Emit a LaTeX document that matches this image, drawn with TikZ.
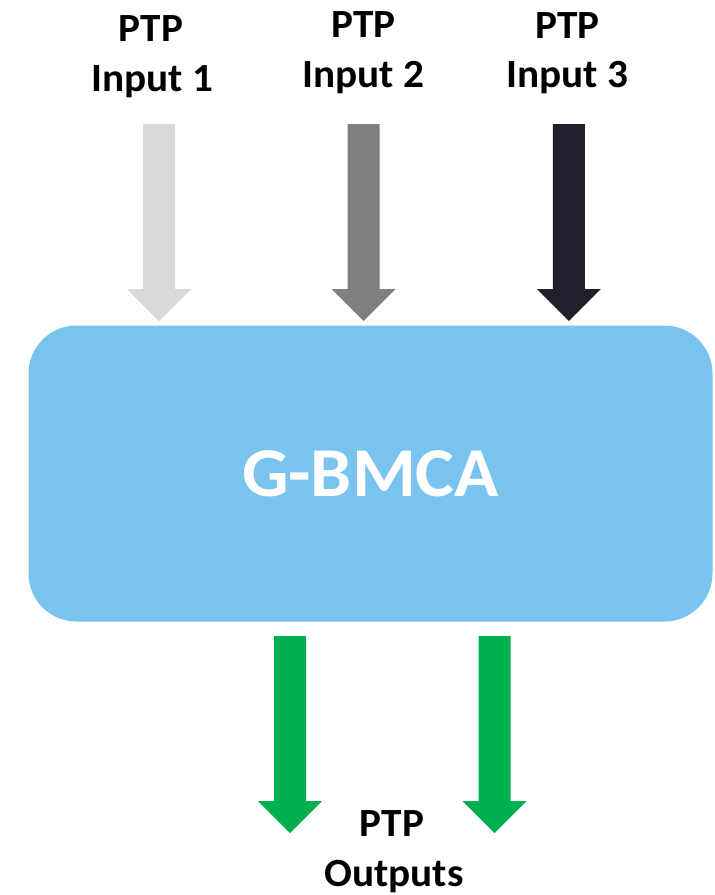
\documentclass[tikz,border=0pt]{standalone}
\usepackage{fontspec}
\setmainfont{Carlito}
\newfontfamily\labelfont[FakeStretch=1.03]{Carlito}
\newfontfamily\corefont[FakeStretch=1.045]{Carlito}
\usetikzlibrary{calc}

\definecolor{inlight}{HTML}{D9D9D9}
\definecolor{inmid}{HTML}{7F7F7F}
\definecolor{indark}{HTML}{20202E}
\definecolor{boxblue}{HTML}{78C4EE}
\definecolor{outgreen}{HTML}{00B050}

% block arrow: fill colour, tail coordinate, tip coordinate
\newcommand\blockarrow[3]{%
  \fill[#1] ($(#2)+(-16,0)$) -- ($(#2)+(16,0)$) -- ($(#3)+(16,-32)$)
    -- ($(#3)+(32,-32)$) -- (#3) -- ($(#3)+(-32,-32)$)
    -- ($(#3)+(-16,-32)$) -- cycle;}

\begin{document}
\begin{tikzpicture}[x=1pt,y=-1pt,
  lbl/.style={anchor=base,inner sep=0pt,font=\labelfont\fontsize{40}{50}\selectfont\bfseries,text=black},
  core/.style={fill=boxblue,rounded corners=48pt,minimum width=684pt,minimum height=296pt,
    inner sep=0pt,text=white,font=\corefont\fontsize{70}{80}\selectfont\bfseries}]
\useasboundingbox (0,0) rectangle (715,895);

% central block
\node[core] (gbmca) at (370.5,473.5) {G-BMCA};

% input labels
\node[lbl] (in1a) at (151,41.7) {PTP};
\node[lbl] (in1b) at (152.5,91.7) {Input 1};
\node[lbl] (in2a) at (363.3,37.3) {PTP};
\node[lbl] (in2b) at (363.3,87.3) {Input 2};
\node[lbl] (in3a) at (567.5,38.3) {PTP};
\node[lbl] (in3b) at (567.5,87.3) {Input 3};

% output label
\node[lbl] (outa) at (392,836.7) {PTP};
\node[lbl] (outb) at (394,886.7) {Outputs};

% arrow ends
\coordinate (t1) at (159,124);   \coordinate (h1) at (159,321);
\coordinate (t2) at (363.7,124); \coordinate (h2) at (363.7,321);
\coordinate (t3) at (568.8,124); \coordinate (h3) at (568.8,321);
\coordinate (t4) at (290,636);   \coordinate (h4) at (290,833);
\coordinate (t5) at (494.5,636); \coordinate (h5) at (494.5,833);

\blockarrow{inlight}{t1}{h1}
\blockarrow{inmid}{t2}{h2}
\blockarrow{indark}{t3}{h3}
\blockarrow{outgreen}{t4}{h4}
\blockarrow{outgreen}{t5}{h5}
\end{tikzpicture}
\end{document}
